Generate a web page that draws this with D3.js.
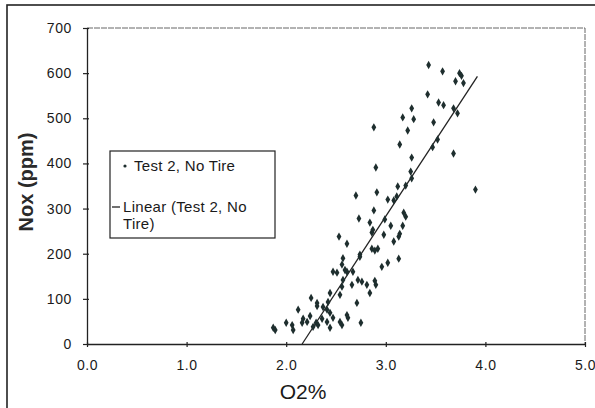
<!DOCTYPE html>
<html><head><meta charset="utf-8">
<script src="https://cdn.jsdelivr.net/npm/d3@7"></script>
<style>body{margin:0;background:#fff}svg{display:block}</style>
</head><body>
<script>
const o2 = [3.43,3.57,3.74,3.76,3.70,3.78,3.42,3.53,3.58,3.68,3.72,3.26,3.17,3.28,3.48,3.22,3.52,3.14,3.26,3.68,
3.25,3.26,3.20,3.12,3.11,3.08,3.90,3.02,2.88,2.90,2.91,2.70,2.88,2.73,2.84,2.99,3.18,3.20,3.17,3.05,
2.87,2.86,2.98,3.14,3.13,3.08,2.53,2.61,2.86,2.89,2.92,2.74,3.13,2.96,3.02,2.57,2.74,2.59,2.61,2.67,
2.57,2.72,2.76,2.81,2.89,2.90,2.84,2.56,2.56,2.47,2.51,2.66,2.25,2.44,2.54,2.42,2.31,2.31,2.37,2.41,
2.44,2.47,2.54,2.56,2.61,2.62,2.44,2.71,2.75,2.12,2.24,2.17,2.21,2.16,2.30,2.32,2.27,2.00,2.06,2.07,
1.87,1.89,2.41,2.36,3.47];
const nox = [618,604,600,594,582,578,553,535,529,522,511,522,502,498,491,473,453,442,413,422,
382,367,351,349,327,318,342,320,480,391,336,329,296,278,269,276,291,282,262,262,
253,247,242,244,238,227,238,222,211,207,211,198,189,171,180,190,193,164,160,160,
142,142,138,131,140,131,113,127,176,160,158,131,102,113,109,93,91,84,82,76,
69,58,49,42,64,58,36,91,47,76,62,56,49,47,47,42,38,47,42,31,
36,31,49,56,436];
const trendX = [2.16, 3.92];
const trendY = [0, 593];
const xTicks = [0,1,2,3,4,5];
const yTicks = [0,100,200,300,400,500,600,700];
const seriesName = "Test 2, No Tire";
const trendName1 = "Linear (Test 2, No";
const trendName2 = "Tire)";
const xTitle = "O2%";
const yTitle = "Nox (ppm)";

const W = 595, H = 408;
const svg = d3.select("body").append("svg").attr("width", W).attr("height", H);
svg.append("rect").attr("x",0).attr("y",0).attr("width",W).attr("height",H).attr("fill","#fff");
// outer chart border
svg.append("rect").attr("x",7).attr("y",5).attr("width",600).attr("height",420)
  .attr("fill","none").attr("stroke","#222").attr("stroke-width",1.6);

const x = d3.scaleLinear().domain([0,5]).range([87,585]);
const y = d3.scaleLinear().domain([0,700]).range([344,28]);

// plot area border (top/right)
svg.append("path").attr("d",`M${x(0)},${y(700)}H${x(5)}V${y(0)}`)
  .attr("fill","none").attr("stroke","#666").attr("stroke-width",1).attr("stroke-dasharray","6,1");

const font = "Arial, 'Liberation Sans', sans-serif";
const xa = svg.append("g").attr("transform",`translate(0,${y(0)})`)
  .call(d3.axisBottom(x).tickValues(xTicks).tickSize(5).tickSizeOuter(0).tickFormat(d3.format(".1f")));
const ya = svg.append("g").attr("transform",`translate(${x(0)},0)`)
  .call(d3.axisLeft(y).tickValues(yTicks).tickSize(5).tickSizeOuter(0).tickFormat(d3.format("d")));
[xa,ya].forEach(a=>{
  a.attr("font-size",14).attr("font-family",font);
  a.select(".domain").attr("stroke","#222").attr("stroke-width",1.3);
  a.selectAll(".tick line").attr("stroke","#222").attr("stroke-width",1.2);
  a.selectAll("text").attr("font-family",font).attr("font-size",14).attr("fill","#1a1a1a")
    .attr("letter-spacing",0.6);
});
xa.selectAll(".tick line").attr("y1",-2).attr("y2",3);
xa.selectAll("text").attr("dy","0").attr("y",26);
ya.selectAll(".tick line").attr("x2",-4).attr("x1",2);
ya.selectAll("text").attr("x",-15);

// trend line
svg.append("line").attr("x1",x(trendX[0])).attr("y1",y(trendY[0]))
  .attr("x2",x(trendX[1])).attr("y2",y(trendY[1]))
  .attr("stroke","#222").attr("stroke-width",1.3);

// points
const diamond = d3.symbol().type(d3.symbolDiamond).size(20);
svg.append("g").selectAll("path").data(o2.map((v,i)=>[v,nox[i]])).join("path")
  .attr("d",diamond).attr("transform",d=>`translate(${x(d[0])},${y(d[1])})`)
  .attr("fill","#1e2e2e");

// axis titles
svg.append("text").attr("x",303).attr("y",399).attr("text-anchor","middle")
  .attr("font-family",font).attr("font-size",21).attr("fill","#1a1a1a").text(xTitle);
svg.append("text").attr("transform","translate(33,182) rotate(-90)").attr("text-anchor","middle")
  .attr("font-family",font).attr("font-size",20).attr("font-weight","bold").attr("fill","#2a2a2a").text(yTitle);

// legend
const lg = svg.append("g");
lg.append("rect").attr("x",110).attr("y",151).attr("width",165).attr("height",87)
  .attr("fill","#fff").attr("stroke","#222").attr("stroke-width",1.2);
lg.append("circle").attr("cx",125).attr("cy",166).attr("r",1.6).attr("fill","#1e2e2e");
const lt = {"font-family":font,"font-size":15,"fill":"#1a1a1a","letter-spacing":0.3};
function tx(xx,yy,s){const t=lg.append("text").attr("x",xx).attr("y",yy).text(s);for(const k in lt)t.attr(k,lt[k]);}
tx(134,171,seriesName);
lg.append("line").attr("x1",112).attr("x2",120).attr("y1",207).attr("y2",207).attr("stroke","#222").attr("stroke-width",1.3);
tx(123,212,trendName1);
tx(123,229,trendName2);
</script>
</body></html>
